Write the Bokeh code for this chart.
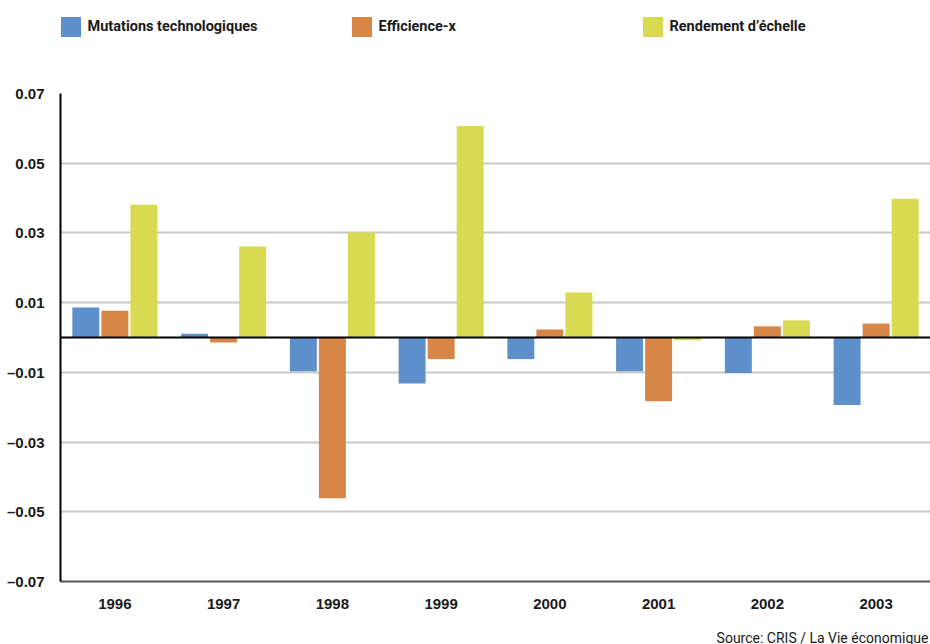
from bokeh.plotting import figure
from bokeh.models import (ColumnDataSource, FactorRange, Range1d, FixedTicker, Span,
                          Legend, LegendItem, Label)
from bokeh.layouts import column
from bokeh.transform import dodge
from bokeh.embed import file_html
from bokeh.resources import INLINE

years = ["1996", "1997", "1998", "1999", "2000", "2001", "2002", "2003"]
mutations = [0.0086, 0.0011, -0.0097, -0.0132, -0.0062, -0.0097, -0.0102, -0.0194]
efficience = [0.0077, -0.0014, -0.0461, -0.0062, 0.0023, -0.0183, 0.0032, 0.0040]
rendement = [0.0381, 0.0261, 0.0301, 0.0607, 0.0129, -0.0008, 0.0049, 0.0398]
series_names = ["Mutations technologiques", "Efficience-x", "Rendement d\u2019\u00e9chelle"]
y_ticks = [-0.07, -0.05, -0.03, -0.01, 0.01, 0.03, 0.05, 0.07]
y_tick_labels = ["\u20130.07", "\u20130.05", "\u20130.03", "\u20130.01", "0.01", "0.03", "0.05", "0.07"]
source_text = "Source: CRIS / La Vie \u00e9conomique"

colors = ["#5d8fcb", "#d68646", "#d8db52"]

src = ColumnDataSource(dict(year=years, mut=mutations, eff=efficience, ren=rendement))


def blank_fig(h):
    f = figure(width=930, height=h, x_range=Range1d(0, 1), y_range=Range1d(0, 1),
               output_backend="svg", toolbar_location=None,
               x_axis_location=None, y_axis_location=None,
               min_border_left=0, min_border_right=0, min_border_top=0, min_border_bottom=0)
    f.outline_line_color = None
    f.xgrid.grid_line_color = None
    f.ygrid.grid_line_color = None
    f.background_fill_color = "white"
    f.border_fill_color = "white"
    return f


# ---- header with legend ----
head = blank_fig(80)
dummy = []
for c in colors:
    # legend-swatch renderer, its single point lies outside the visible range
    dummy.append(head.vbar(x=[5], top=[5], bottom=[4], width=0.1, fill_color=c, line_color=None))
legend = Legend(items=[LegendItem(label=n, renderers=[r]) for n, r in zip(series_names, dummy)],
                orientation="horizontal", location=(-2.5, 41.5),
                glyph_width=25, glyph_height=25, label_standoff=5, label_width=261,
                spacing=0, padding=0, margin=0, border_line_color=None,
                background_fill_alpha=0, label_text_font="Roboto",
                label_text_font_style="bold", label_text_font_size="14.5px",
                label_text_color="#1a1a1a", label_height=25)
head.add_layout(legend, "center")

# ---- main chart ----
p = figure(width=930, height=540, x_range=FactorRange(*years), y_range=Range1d(-0.07, 0.07),
           output_backend="svg", toolbar_location=None,
           min_border_left=60, min_border_right=0, min_border_top=13, min_border_bottom=39)
p.outline_line_color = None
p.background_fill_color = "white"
p.border_fill_color = "white"

offsets = [-0.267, 0.0, 0.267]
cols = ["mut", "eff", "ren"]
for col, off, c in zip(cols, offsets, colors):
    p.vbar(x=dodge("year", off, range=p.x_range), top=col, bottom=0, width=0.248,
           source=src, fill_color=c, line_color=None)

p.xgrid.grid_line_color = None
p.ygrid.ticker = FixedTicker(ticks=y_ticks)
p.ygrid.grid_line_color = "#c8c8c8"
p.ygrid.grid_line_width = 2

zero = Span(location=0, dimension="width", line_color="black", line_width=2)
p.add_layout(zero)

ya = p.yaxis[0]
ya.ticker = FixedTicker(ticks=y_ticks)
ya.major_label_overrides = {t: l for t, l in zip(y_ticks, y_tick_labels)}
ya.axis_line_color = "black"
ya.axis_line_width = 2
ya.major_tick_line_color = None
ya.minor_tick_line_color = None
ya.major_label_text_font = "Liberation Sans"
ya.major_label_text_font_style = "bold"
ya.major_label_text_font_size = "15px"
ya.major_label_text_color = "#1a1a1a"
ya.major_label_standoff = 10

xa = p.xaxis[0]
xa.axis_line_color = "#555555"
xa.axis_line_width = 2
xa.major_tick_line_color = None
xa.minor_tick_line_color = None
xa.major_label_text_font = "Liberation Sans"
xa.major_label_text_font_style = "bold"
xa.major_label_text_font_size = "15px"
xa.major_label_text_color = "#1a1a1a"
xa.major_label_standoff = 11

# ---- footer with source ----
foot = blank_fig(24)
foot.add_layout(Label(x=868, y=7, x_units="screen", y_units="screen", text=source_text,
                      text_align="right", text_baseline="alphabetic", text_font="Roboto",
                      text_font_size="14px", text_color="#1a1a1a"))

layout = column(head, p, foot, spacing=0)
open("out.html", "w").write(file_html(layout, INLINE))
